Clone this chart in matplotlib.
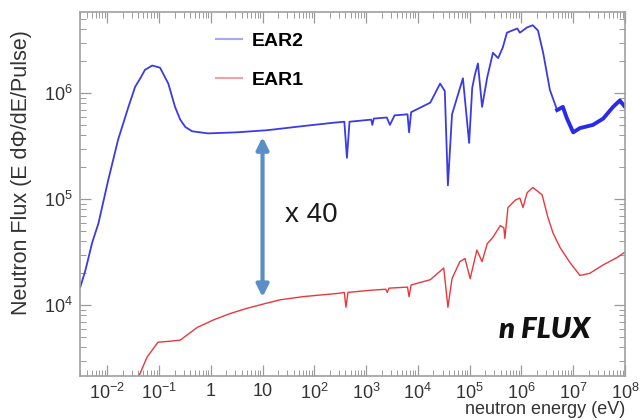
import numpy as np
import matplotlib
matplotlib.use('Agg')
import matplotlib.pyplot as plt
from matplotlib.ticker import LogLocator, FuncFormatter, NullFormatter
from matplotlib.lines import Line2D

plt.rcParams['font.family'] = ['Liberation Sans', 'DejaVu Sans']
plt.rcParams['mathtext.default'] = 'regular'

# values, as log10(energy / eV) and log10(flux)
ear2_log_e = [-2.52, -2.42, -2.29, -2.17, -1.98, -1.79, -1.59, -1.46, -1.36, -1.27,
              -1.13, -0.98, -0.82, -0.69, -0.59, -0.49, -0.36, -0.05, 0.50, 1.09,
              1.80, 2.36, 2.58, 2.63, 2.68, 3.10, 3.12, 3.15, 3.40, 3.46,
              3.55, 3.80, 3.83, 3.87, 4.24, 4.43, 4.52, 4.58, 4.66, 4.87,
              4.99, 5.05, 5.10, 5.16, 5.24, 5.34, 5.45, 5.55, 5.64, 5.72,
              5.92, 5.97, 6.11, 6.22, 6.32, 6.42, 6.55, 6.69, 6.80, 6.88,
              7.00, 7.13, 7.38, 7.58, 7.77, 7.90, 8.00]
ear2_log_flux = [4.17, 4.33, 4.59, 4.77, 5.18, 5.56, 5.87, 6.06, 6.14, 6.22,
                 6.26, 6.24, 6.09, 5.87, 5.75, 5.68, 5.64, 5.62, 5.63, 5.65,
                 5.69, 5.72, 5.73, 5.39, 5.73, 5.75, 5.70, 5.76, 5.77, 5.70,
                 5.79, 5.80, 5.63, 5.82, 5.91, 6.09, 6.02, 5.13, 5.80, 6.14,
                 5.53, 6.05, 6.17, 6.28, 5.87, 6.15, 6.38, 6.33, 6.43, 6.57,
                 6.61, 6.57, 6.62, 6.64, 6.59, 6.38, 6.03, 5.84, 5.87, 5.76,
                 5.63, 5.67, 5.70, 5.76, 5.87, 5.93, 5.87]

ear1_log_e = [-1.50, -1.23, -1.02, -0.78, -0.59, -0.26, 0.05, 0.37, 0.70, 1.09,
              1.34, 1.78, 2.44, 2.58, 2.61, 2.65, 3.08, 3.38, 3.41, 3.44,
              3.80, 3.83, 3.87, 4.24, 4.50, 4.58, 4.66, 4.81, 4.91, 5.01,
              5.14, 5.24, 5.34, 5.45, 5.59, 5.66, 5.68, 5.74, 5.88, 5.97,
              6.03, 6.11, 6.22, 6.40, 6.51, 6.61, 6.75, 6.94, 7.13, 7.32,
              7.58, 7.85, 8.00]
ear1_log_flux = [3.20, 3.51, 3.65, 3.66, 3.67, 3.79, 3.86, 3.92, 3.97, 4.02,
                 4.05, 4.08, 4.11, 4.12, 3.98, 4.12, 4.14, 4.15, 4.12, 4.16,
                 4.17, 4.08, 4.19, 4.24, 4.35, 3.98, 4.25, 4.41, 4.44, 4.25,
                 4.52, 4.41, 4.58, 4.64, 4.75, 4.73, 4.63, 4.92, 4.99, 5.01,
                 4.92, 5.06, 5.11, 5.04, 4.83, 4.68, 4.54, 4.40, 4.28, 4.30,
                 4.38, 4.45, 4.50]

ratio_at = 10.0
ratio_top = 3.85e5
ratio_bottom = 1.19e4

e2 = 10 ** np.array(ear2_log_e)
f2 = 10 ** np.array(ear2_log_flux)
e1 = 10 ** np.array(ear1_log_e)
f1 = 10 ** np.array(ear1_log_flux)

fig = plt.figure(figsize=(6.41, 4.2), dpi=100)
ax = fig.add_axes([0.125, 0.105, 0.85, 0.866])

ax.plot(e2, f2, color='#3b3be6', lw=1.3)
tail = e2 >= 4e6
ax.plot(e2[tail], f2[tail], color='#2a2ae8', lw=2.8)
ax.plot(e1, f1, color='#e8383c', lw=1.0)

ax.set_xscale('log')
ax.set_yscale('log')
ax.set_xlim(3e-3, 1e8)
ax.set_ylim(2.15e3, 5.8e6)

ax.annotate('', xy=(ratio_at, ratio_bottom), xytext=(ratio_at, ratio_top),
            arrowprops=dict(arrowstyle='<|-|>', color='#5b8ec6', lw=3,
                            mutation_scale=18, shrinkA=0, shrinkB=0))
ax.text(0.376, 0.442, 'x 40', transform=ax.transAxes, fontsize=20,
        ha='left', va='center', color='#1a1a1a')
ax.text(0.853, 0.126, 'n FLUX', transform=ax.transAxes, fontsize=21,
        family='Lato', weight='heavy', style='italic', ha='center', va='center',
        color='#111111')

handles = [Line2D([], [], color='#a8a8f0', lw=1.5),
           Line2D([], [], color='#f0a0a8', lw=1.5)]
ax.legend(handles, ['EAR2', 'EAR1'], loc='upper left',
          bbox_to_anchor=(0.25, 0.945), frameon=False, borderpad=0,
          borderaxespad=0, handlelength=1.3, handletextpad=0.5,
          labelspacing=1.1, prop={'weight': 'bold', 'size': 14})

def xfmt(v, pos):
    p = int(round(np.log10(v)))
    if p == 0:
        return '1'
    if p == 1:
        return '10'
    return '$10^{%d}$' % p

def yfmt(v, pos):
    return '$10^{%d}$' % int(round(np.log10(v)))

ax.xaxis.set_major_locator(LogLocator(base=10, numticks=20))
ax.xaxis.set_minor_locator(LogLocator(base=10, subs=np.arange(2, 10), numticks=20))
ax.xaxis.set_major_formatter(FuncFormatter(xfmt))
ax.xaxis.set_minor_formatter(NullFormatter())
ax.yaxis.set_major_locator(LogLocator(base=10, numticks=20))
ax.yaxis.set_minor_locator(LogLocator(base=10, subs=np.arange(2, 10), numticks=20))
ax.yaxis.set_major_formatter(FuncFormatter(yfmt))
ax.yaxis.set_minor_formatter(NullFormatter())

ax.tick_params(which='both', direction='in', top=True, right=True,
               color='#9a9a9a', labelsize=13, labelcolor='#333333')
ax.tick_params(which='major', length=8, width=0.9, pad=5)
ax.tick_params(which='minor', length=4, width=0.7)
for s in ax.spines.values():
    s.set_color('#a0a0a0')
    s.set_linewidth(1.2)

ax.set_ylabel('Neutron Flux (E d\u03a6/dE/Pulse)', fontsize=15.5, color='#333333')
ax.yaxis.set_label_coords(-0.088, 0.56)
ax.set_xlabel('neutron energy (eV)', fontsize=13, color='#333333', ha='right')
ax.xaxis.set_label_coords(1.0, -0.07)

fig.savefig('out.png', dpi=100)
